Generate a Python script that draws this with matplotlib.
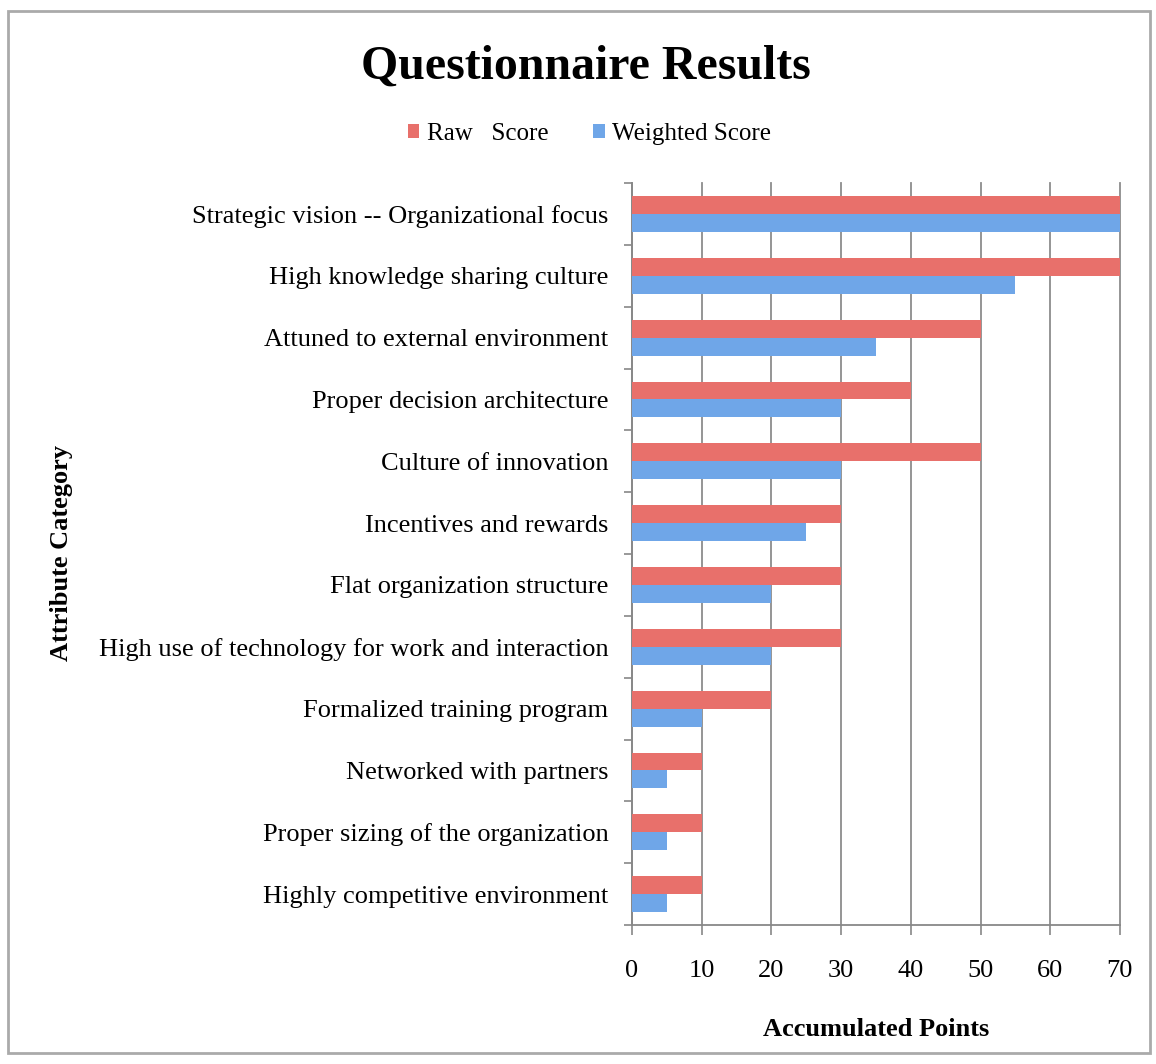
import matplotlib.pyplot as plt
from matplotlib.patches import Rectangle
import numpy as np

# Questionnaire data, listed top to bottom as in the chart
categories = ['Strategic vision -- Organizational focus',
              'High knowledge sharing culture',
              'Attuned to external environment',
              'Proper decision architecture',
              'Culture of innovation',
              'Incentives and rewards',
              'Flat organization structure',
              'High use of technology for work and interaction',
              'Formalized training program',
              'Networked with partners',
              'Proper sizing of the organization',
              'Highly competitive environment']
raw_score = [70, 70, 50, 40, 50, 30, 30, 30, 20, 10, 10, 10]
weighted_score = [70, 55, 35, 30, 30, 25, 20, 20, 10, 5, 5, 5]
x_ticks = [0, 10, 20, 30, 40, 50, 60, 70]

plt.rcParams['font.family'] = ['Liberation Serif', 'DejaVu Serif']

fig = plt.figure(figsize=(11.56, 10.64), dpi=100)
ax = fig.add_axes([0.5467, 0.1306, 0.4221, 0.6974])

n = len(categories)
y = np.arange(n)[::-1]
h = 0.29
ax.barh(y + h / 2, raw_score, height=h, color='#e8706b', zorder=3, label='Raw   Score')
ax.barh(y - h / 2, weighted_score, height=h, color='#6fa6e8', zorder=3, label='Weighted Score')

ax.set_xlim(0, 70)
ax.set_ylim(-0.5, n - 0.5)
ax.set_xticks(x_ticks)
ax.set_yticks(y)
ax.set_yticklabels(categories, fontsize=19)
ax.set_yticks(np.arange(-0.5, n, 1.0), minor=True)
ax.tick_params(axis='y', which='major', length=0, pad=17)
ax.tick_params(axis='y', which='minor', length=6, color='#888888', width=1.2, direction='out')
ax.tick_params(axis='x', length=7, color='#888888', width=1.2, direction='out', labelsize=19, pad=18)

ax.grid(axis='x', color='#8c8c8c', linewidth=1.3, zorder=0)
for line in ax.get_xgridlines():
    line.set_clip_on(False)
for s in ['top', 'right']:
    ax.spines[s].set_visible(False)
for s in ['left', 'bottom']:
    ax.spines[s].set_color('#888888')
    ax.spines[s].set_linewidth(1.3)

ax.set_xlabel('Accumulated Points', fontsize=19, fontweight='bold', labelpad=26)
fig.text(0.053, 0.48, 'Attribute Category', rotation=90, fontsize=19,
         fontweight='bold', ha='center', va='center')

fig.text(0.507, 0.937, 'Questionnaire Results', fontsize=34.5, fontweight='bold',
         ha='center', va='center')
fig.legend(loc='center', bbox_to_anchor=(0.51, 0.874), ncol=2, frameon=False,
           fontsize=18, handlelength=0.45, handleheight=0.45, handletextpad=0.3,
           columnspacing=1.8)

# Outer chart border
fig.patches.append(Rectangle((0.007, 0.01), 0.988, 0.98, transform=fig.transFigure,
                             fill=False, edgecolor='#aaaaaa', linewidth=2))

plt.savefig('out.png')
